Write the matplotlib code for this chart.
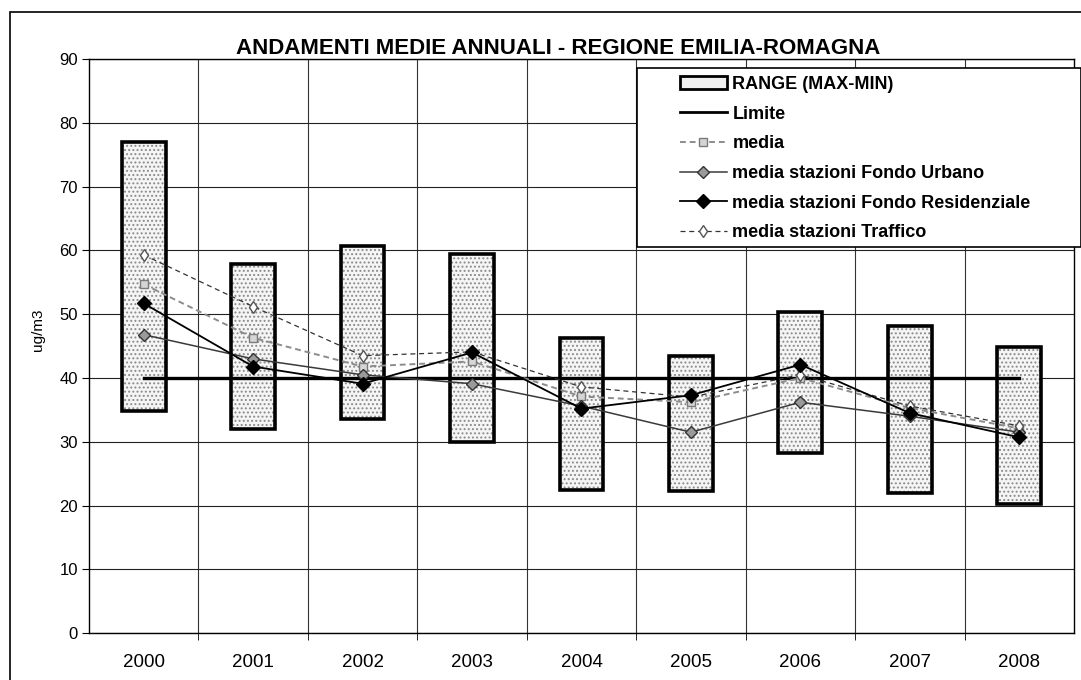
import numpy as np
import matplotlib
matplotlib.use('Agg')
import matplotlib.pyplot as plt
from matplotlib.patches import Patch, Rectangle
from matplotlib.lines import Line2D

plt.rcParams['font.family'] = ['Liberation Sans', 'DejaVu Sans']
plt.rcParams['hatch.linewidth'] = 0.9

# medie annuali (ug/m3)
anni = ['2000', '2001', '2002', '2003', '2004', '2005', '2006', '2007', '2008']
range_max = [77.0, 57.8, 60.7, 59.5, 46.3, 43.4, 50.3, 48.1, 44.9]
range_min = [34.9, 32.0, 33.6, 29.9, 22.4, 22.3, 28.3, 22.0, 20.2]
limite = [40] * len(anni)
media = [54.7, 46.3, 41.8, 42.6, 37.1, 36.2, 40.0, 35.3, 32.1]
fondo_urbano = [46.8, 43.0, 40.5, 39.1, 35.6, 31.5, 36.2, 34.0, 31.5]
fondo_residenziale = [51.7, 41.8, 39.1, 44.0, 35.2, 37.3, 42.1, 34.5, 30.7]
traffico = [59.3, 51.2, 43.5, 44.1, 38.6, 37.0, 40.5, 35.6, 32.5]

W, H = 1081, 680
fig = plt.figure(figsize=(W / 100, H / 100), dpi=100)
ax = fig.add_axes([0.0823, 0.069, 0.9112, 0.844])
x = np.arange(len(anni))
alt = np.array(range_max) - np.array(range_min)

# barre range: riempimento puntinato + bordo spesso
ax.bar(x, alt, bottom=range_min, width=0.4, color='#f5f5f5', edgecolor='#8a8a8a',
       hatch='....', linewidth=0, zorder=2)
ax.bar(x, alt, bottom=range_min, width=0.4, fill=False, edgecolor='black',
       linewidth=2.6, zorder=3)

st_media = dict(color='#8c8c8c', ls=(0, (3, 2)), lw=1.4, marker='s', ms=5.5,
                mfc='#d5d5d5', mec='#7a7a7a')
st_urb = dict(color='#3a3a3a', lw=1.1, marker='D', ms=6, mfc='#9a9a9a', mec='#333333')
st_res = dict(color='black', lw=1.3, marker='D', ms=7, mfc='black', mec='black')
st_traf = dict(color='#333333', ls=(0, (4, 3)), lw=0.9, marker='d', ms=6,
               mfc='white', mec='#555555')

ax.plot(x, limite, color='black', lw=2.4, zorder=4)
ax.plot(x, media, zorder=5, **st_media)
ax.plot(x, fondo_urbano, zorder=5, **st_urb)
ax.plot(x, fondo_residenziale, zorder=6, **st_res)
ax.plot(x, traffico, zorder=5, **st_traf)

ax.set_xlim(-0.5, len(anni) - 0.5)
ax.set_ylim(0, 90)
ax.set_yticks(np.arange(0, 91, 10))
ax.set_xticks(x)
ax.set_xticklabels(anni)
ax.set_xticks(x[:-1] + 0.5, minor=True)
ax.tick_params(axis='x', which='major', length=0, pad=15, labelsize=13.5)
ax.tick_params(axis='x', which='minor', length=5, direction='out')
ax.tick_params(axis='y', length=5, direction='out', labelsize=12, pad=3)

ax.grid(axis='y', color='#222222', lw=0.8, zorder=0)
ax.grid(axis='x', which='minor', color='#333333', lw=0.8, zorder=0)
for s in ax.spines.values():
    s.set_color('black')
    s.set_linewidth(1.0)

handles = [
    Patch(facecolor='#f0f0f0', edgecolor='black', lw=2.0, label='RANGE (MAX-MIN)'),
    Line2D([], [], color='black', lw=2.0, label='Limite'),
    Line2D([], [], label='media', **st_media),
    Line2D([], [], label='media stazioni Fondo Urbano', **st_urb),
    Line2D([], [], label='media stazioni Fondo Residenziale', **st_res),
    Line2D([], [], label='media stazioni Traffico', **st_traf),
]
leg = fig.legend(handles=handles, loc='upper left',
                 bbox_to_anchor=(680 / W, 1 - 76 / H), frameon=False,
                 borderpad=0, borderaxespad=0, handlelength=2.6,
                 handletextpad=0.3, labelspacing=0.70,
                 prop={'weight': 'bold', 'size': 13})
leg.set_zorder(10)
# riquadro legenda
fig.add_artist(Rectangle((637 / W, 1 - 247 / H), (W - 637) / W, 179 / H,
                         transform=fig.transFigure, facecolor='white',
                         edgecolor='black', lw=1.2, zorder=9))

fig.text(0.516, 1 - 48 / H, 'ANDAMENTI MEDIE ANNUALI - REGIONE EMILIA-ROMAGNA',
         ha='center', va='center', fontsize=16, fontweight='bold')
fig.text(38 / W, 1 - 330 / H, 'ug/m3', rotation=90, ha='center', va='center',
         fontsize=11)

# cornice esterna
fig.add_artist(Rectangle((10 / W, -0.1), 1.2, 0.1 + 1 - 12 / H, transform=fig.transFigure,
                         fill=False, lw=1.2, color='black'))

fig.savefig('out.png', dpi=100)
